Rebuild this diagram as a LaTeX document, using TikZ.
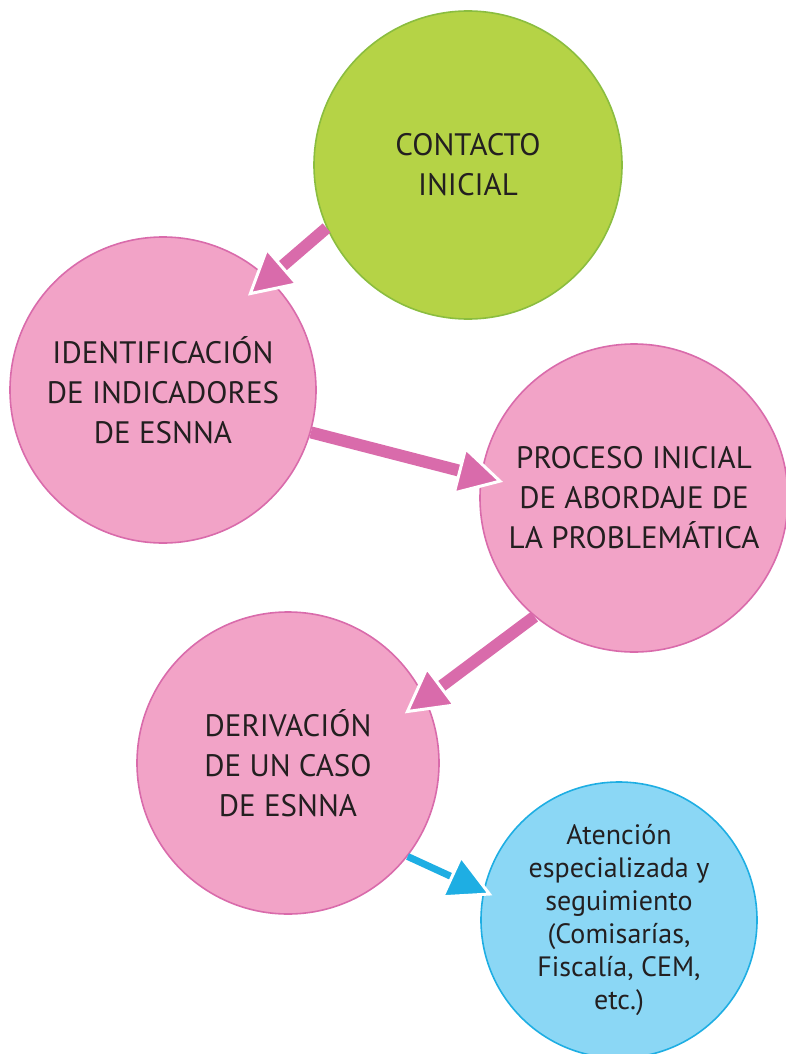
\documentclass[tikz,border=0pt]{standalone}
\usepackage{fontspec}
\setmainfont{PT Sans}
\usetikzlibrary{arrows.meta}

\definecolor{verde}{RGB}{181,211,70}
\definecolor{verdeborde}{RGB}{139,189,63}
\definecolor{rosa}{RGB}{242,163,199}
\definecolor{rosaborde}{RGB}{217,107,171}
\definecolor{celeste}{RGB}{139,215,245}
\definecolor{celesteborde}{RGB}{30,174,227}
\definecolor{texto}{RGB}{35,31,32}

\tikzset{
	bola/.style = {circle, inner sep=0pt, line width=1.6pt, align=center, text=texto,
		font=\fontsize{31}{40}\selectfont},
	bolaverde/.style = {bola, fill=verde, draw=verdeborde},
	bolarosa/.style = {bola, fill=rosa, draw=rosaborde},
	bolaceleste/.style = {bola, fill=celeste, draw=celesteborde,
		font=\fontsize{28}{33}\selectfont},
	flecharosa/.style = {draw=rosaborde, line width=12pt,
		-{Triangle[length=46pt,width=50pt,color=white,fill=rosaborde,line width=3pt]}},
	flechaceleste/.style = {draw=celesteborde, line width=7pt,
		-{Triangle[length=46pt,width=48pt,color=white,fill=celesteborde,line width=3pt]}}
}

\begin{document}
\begin{tikzpicture}[x=1pt,y=-1pt]
	\useasboundingbox (0,0) rectangle (786,1054);
	% circulos
	\node[bolaverde, minimum size=308pt] (contacto) at (468,165) {CONTACTO\\INICIAL};
	\node[bolarosa, minimum size=306pt] (identif) at (163,390) {IDENTIFICACIÓN\\DE INDICADORES\\DE ESNNA\vphantom{Ó}};
	\node[bolarosa, minimum size=308pt] (proceso) at (634,498) {PROCESO INICIAL\\DE ABORDAJE DE\\LA PROBLEMÁTICA};
	\node[bolarosa, minimum size=302pt] (deriv) at (288,763) {DERIVACIÓN\\DE UN CASO\\DE ESNNA};
	\node[bolaceleste, minimum size=276pt] (atencion) at (619,920) {Atención\\especializada y\\seguimiento\\(Comisarías,\\Fiscalía, CEM,\\etc.)};
	% flechas
	\draw[flecharosa] (contacto.204) -- ([shift={(48:127pt)}]identif.center);
	\draw[flecharosa] (identif.-16) -- ([shift={(173:132pt)}]proceso.center);
	\draw[flecharosa] (proceso.230) -- ([shift={(23:127pt)}]deriv.center);
	\draw[flechaceleste] (deriv.-38) -- ([shift={(169:129pt)}]atencion.center);
\end{tikzpicture}
\end{document}
